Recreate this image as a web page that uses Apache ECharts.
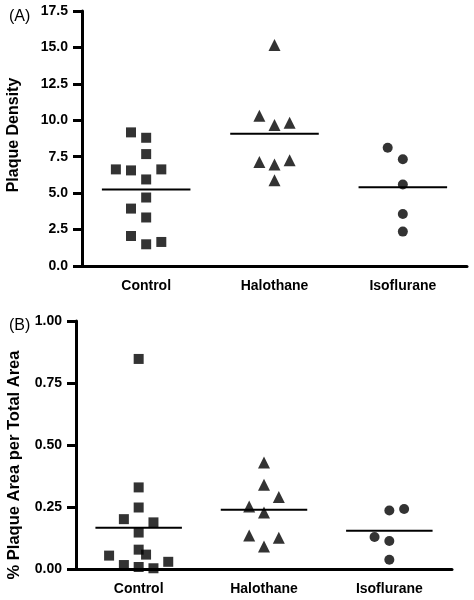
<!DOCTYPE html>
<html>
<head>
<meta charset="utf-8">
<script src="https://cdn.jsdelivr.net/npm/echarts@6/dist/echarts.min.js"></script>
<style>html,body{margin:0;padding:0;background:#fff;}#c{width:474px;height:600px;}</style>
</head>
<body>
<div id="c"></div>
<script>
const categories = ['Control', 'Halothane', 'Isoflurane'];

// Panel A: Plaque Density
const densityTitle = 'Plaque Density';
const densityTicks = [0, 17.5, 2.5];
const densityControl = [9.17, 8.80, 7.68, 6.63, 6.56, 6.63, 5.94, 4.70, 3.94, 3.33, 2.06, 1.49, 1.65];
const densityControlSlot = [-1, 0, 0, -2, -1, 1, 0, 0, -1, 0, -1, 0, 1];
const densityHalothane = [15.17, 10.31, 9.67, 9.83, 7.13, 7.26, 6.97, 5.89];
const densityHalothaneSlot = [0, -1, 0, 1, -1, 1, 0, 0];
const densityIsoflurane = [8.11, 7.33, 5.59, 3.57, 2.36];
const densityIsofluraneSlot = [-1, 0, 0, 0, 0];
const densityMeans = [5.25, 9.07, 5.41];

// Panel B: % Plaque Area per Total Area
const areaTitle = '% Plaque Area per Total Area';
const areaTicks = [0, 1, 0.25];
const areaControl = [0.847, 0.329, 0.248, 0.201, 0.188, 0.147, 0.078, 0.058, 0.054, 0.016, 0.008, 0.003, 0.029];
const areaControlSlot = [0, 0, 0, -1, 1, 0, 0, 0.5, -2, -1, 0, 1, 2];
const areaHalothane = [0.429, 0.340, 0.290, 0.252, 0.228, 0.135, 0.126, 0.091];
const areaHalothaneSlot = [0, 0, 1, -1, 0, -1, 1, 0];
const areaIsoflurane = [0.236, 0.242, 0.129, 0.113, 0.037];
const areaIsofluraneSlot = [0, 1, -1, 0, 0];
const areaMeans = [0.166, 0.239, 0.154];

const SLOT = 0.118;     // jitter spacing in category units
const HALF = 0.345;     // half-width of mean line in category units
const FONT = 'Liberation Sans, Arial, sans-serif';
const symbols = ['rect', 'triangle', 'circle'];
const symbolSizes = [10, 12, 10];

function pts(catIdx, vals, slots) {
  return vals.map((v, i) => [catIdx + slots[i] * SLOT, v]);
}

function panelSeries(xIdx, yIdx, groups, means) {
  const s = [];
  groups.forEach((g, ci) => {
    s.push({
      type: 'scatter', xAxisIndex: xIdx, yAxisIndex: yIdx,
      symbol: symbols[ci], symbolSize: symbolSizes[ci],
      itemStyle: { color: '#000' }, clip: false,
      data: pts(ci, g[0], g[1]), z: 3
    });
  });
  means.forEach((m, ci) => {
    s.push({
      type: 'line', xAxisIndex: xIdx, yAxisIndex: yIdx,
      symbol: 'none', lineStyle: { color: '#000', width: 2 },
      data: [[ci - HALF, m], [ci + HALF, m]], z: 4
    });
  });
  return s;
}

function catAxis(grid) {
  return {
    type: 'category', gridIndex: grid, data: categories, boundaryGap: true,
    axisLine: { onZero: false, lineStyle: { color: '#000', width: 3 } },
    axisTick: { alignWithLabel: true, length: 8, lineStyle: { color: '#000', width: 3 } },
    axisLabel: { color: '#000', fontFamily: FONT, fontWeight: 'bold', fontSize: 14, margin: 13 }
  };
}
function valXAxis(grid) {
  return { type: 'value', gridIndex: grid, min: -0.5, max: 2.5, show: false };
}
function valYAxis(grid, ticks, dec) {
  return {
    type: 'value', gridIndex: grid, min: ticks[0], max: ticks[1], interval: ticks[2],
    splitLine: { show: false },
    axisLine: { show: true, onZero: false, lineStyle: { color: '#000', width: 3 } },
    axisTick: { show: true, length: 9, lineStyle: { color: '#000', width: 3 } },
    axisLabel: { color: '#000', fontFamily: FONT, fontWeight: 'bold', fontSize: 14, margin: 14,
      formatter: v => v.toFixed(dec) }
  };
}
function yTitle(text, x, y, size) {
  return {
    type: 'text', x: x, y: y, rotation: Math.PI / 2,
    style: { text: text, fill: '#000', font: 'bold ' + size + 'px ' + FONT, align: 'center', verticalAlign: 'middle' }
  };
}

const chart = echarts.init(document.getElementById('c'), null, { renderer: 'canvas' });
chart.setOption({
  animation: false,
  backgroundColor: '#fff',
  title: [
    { text: '(A)', left: 4, top: 4, textStyle: { color: '#000', fontFamily: FONT, fontWeight: 'normal', fontSize: 16 } },
    { text: '(B)', left: 4, top: 313, textStyle: { color: '#000', fontFamily: FONT, fontWeight: 'normal', fontSize: 16 } }
  ],
  graphic: [
    yTitle(densityTitle, 14, 135, 16),
    yTitle(areaTitle, 14, 465, 16.5)
  ],
  grid: [
    { left: 82, top: 11, width: 385, height: 255 },
    { left: 76, top: 321, width: 376, height: 248 }
  ],
  xAxis: [catAxis(0), valXAxis(0), catAxis(1), valXAxis(1)],
  yAxis: [valYAxis(0, densityTicks, 1), valYAxis(1, areaTicks, 2)],
  series: [].concat(
    panelSeries(1, 0, [[densityControl, densityControlSlot], [densityHalothane, densityHalothaneSlot], [densityIsoflurane, densityIsofluraneSlot]], densityMeans),
    panelSeries(3, 1, [[areaControl, areaControlSlot], [areaHalothane, areaHalothaneSlot], [areaIsoflurane, areaIsofluraneSlot]], areaMeans)
  )
});
</script>
</body>
</html>
